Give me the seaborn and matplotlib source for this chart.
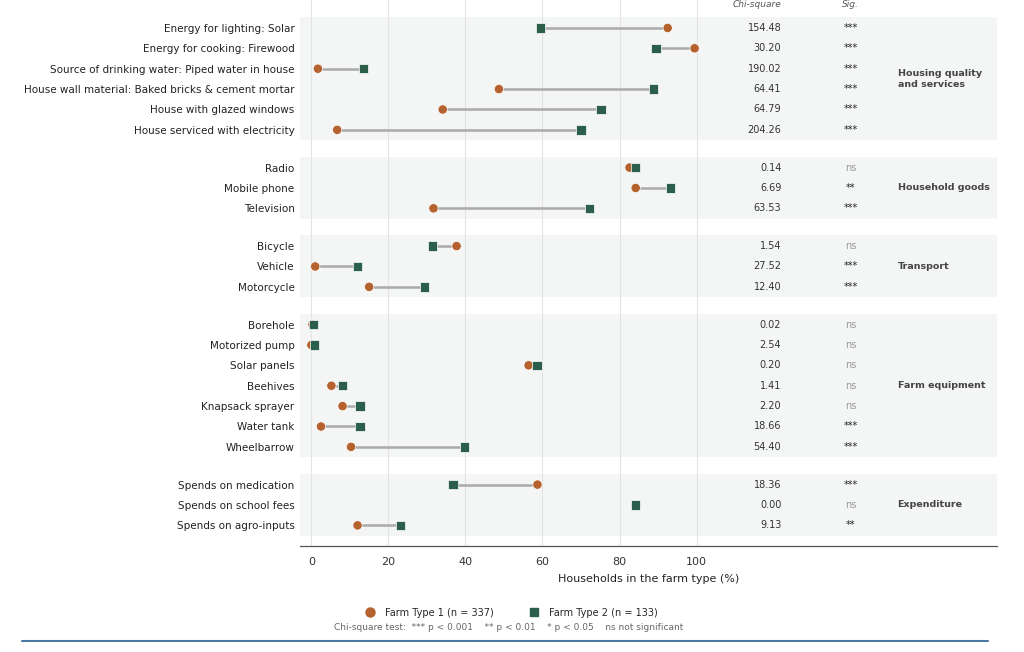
import matplotlib
matplotlib.use("Agg")
import matplotlib.pyplot as plt
from matplotlib.lines import Line2D
import seaborn as sns
import pandas as pd

# groups and items, top to bottom
groups = ["Housing quality\nand services", "Household goods", "Transport",
          "Farm equipment", "Expenditure"]
items = [
    ["Energy for lighting: Solar", "Energy for cooking: Firewood",
     "Source of drinking water: Piped water in house",
     "House wall material: Baked bricks & cement mortar",
     "House with glazed windows", "House serviced with electricity"],
    ["Radio", "Mobile phone", "Television"],
    ["Bicycle", "Vehicle", "Motorcycle"],
    ["Borehole", "Motorized pump", "Solar panels", "Beehives",
     "Knapsack sprayer", "Water tank", "Wheelbarrow"],
    ["Spends on medication", "Spends on school fees", "Spends on agro-inputs"],
]
type1 = [92.5, 99.5, 1.7, 48.7, 34.1, 6.7,
         82.6, 84.2, 31.7,
         37.7, 1.0, 15.0,
         0.3, 0.0, 56.4, 5.2, 8.1, 2.5, 10.3,
         58.7, 84.2, 12.0]
type2 = [59.5, 89.5, 13.5, 88.8, 75.2, 70.0,
         84.2, 93.2, 72.2,
         31.5, 11.9, 29.3,
         0.6, 0.8, 58.6, 8.1, 12.6, 12.6, 39.8,
         36.8, 84.2, 23.2]
chi2 = [154.48, 30.20, 190.02, 64.41, 64.79, 204.26,
        0.14, 6.69, 63.53,
        1.54, 27.52, 12.40,
        0.02, 2.54, 0.20, 1.41, 2.20, 18.66, 54.40,
        18.36, 0.00, 9.13]
sig = ["***", "***", "***", "***", "***", "***",
       "ns", "**", "***",
       "ns", "***", "***",
       "ns", "ns", "ns", "ns", "ns", "***", "***",
       "***", "ns", "**"]

c1 = "#b5622e"
c2 = "#2c5f4b"
GAP = 0.85

# y positions with a gap between groups
ypos, labels, spans = [], [], []
y = 0.0
for g, its in zip(groups, items):
    start = y
    for it in its:
        ypos.append(y)
        labels.append(it)
        y += 1
    spans.append((start, y - 1))
    y += GAP

df = pd.DataFrame({"item": labels, "y": ypos, "t1": type1, "t2": type2,
                   "chi2": chi2, "sig": sig})
long = pd.concat([
    pd.DataFrame({"y": df.y, "value": df.t1, "farm": "Farm Type 1 (n = 337)"}),
    pd.DataFrame({"y": df.y, "value": df.t2, "farm": "Farm Type 2 (n = 133)"}),
])

sns.set_style("white")
plt.rcParams["font.family"] = ["DejaVu Sans"]

fig = plt.figure(figsize=(10.24, 6.52), dpi=100)
ax = fig.add_axes([0.293, 0.162, 0.681, 0.838])

for s, e in spans:
    ax.axhspan(s - 0.52, e + 0.52, color="#f4f6f5", zorder=0, lw=0)
for gx in range(0, 101, 20):
    ax.axvline(gx, color="#e3e3e3", lw=0.8, zorder=0.5)

ax.hlines(df.y, df[["t1", "t2"]].min(axis=1), df[["t1", "t2"]].max(axis=1),
          color="#aaaaaa", lw=1.8, zorder=1)
sns.scatterplot(data=long, x="value", y="y", hue="farm", style="farm",
                palette=[c1, c2], markers=["o", "s"], s=45,
                edgecolor="white", linewidth=0.5, zorder=3, ax=ax,
                legend=False)

ax.set_xlim(-2.94, 178.1)
ax.set_ylim(ypos[-1] + 1.03, -1.37)
ax.set_xticks(range(0, 101, 20))
ax.set_yticks(df.y)
ax.set_yticklabels(df.item, fontsize=7.5, color="#222222")
ax.tick_params(axis="y", length=0, pad=4)
ax.tick_params(axis="x", length=4, width=0.8, colors="#333333",
               labelsize=8, direction="out")
ax.set_xlabel("Households in the farm type (%)", fontsize=8, color="#222222",
              labelpad=5)
ax.set_ylabel("")
for sp in ["left", "top", "right"]:
    ax.spines[sp].set_visible(False)
ax.spines["bottom"].set_color("#555555")
ax.spines["bottom"].set_linewidth(0.9)

# stats columns
ax.text(122, -1.13, "Chi-square", ha="right", va="center", fontsize=6.5,
        style="italic", color="#555555")
ax.text(140, -1.13, "Sig.", ha="center", va="center", fontsize=6.5,
        style="italic", color="#555555")
for yy, c, sg in zip(df.y, df.chi2, df.sig):
    ax.text(122, yy, f"{c:.2f}", ha="right", va="center", fontsize=7,
            color="#333333")
    ax.text(140, yy, sg, ha="center", va="center", fontsize=7,
            color="#999999" if sg == "ns" else "#222222")
for g, (s, e) in zip(groups, spans):
    ax.text(152.2, (s + e) / 2, g, ha="left", va="center", fontsize=6.8,
            fontweight="bold", color="#444444", linespacing=1.2)

handles = [Line2D([], [], marker="o", ls="", color=c1, markersize=6.5),
           Line2D([], [], marker="s", ls="", color=c2, markersize=6)]
fig.legend(handles, ["Farm Type 1 (n = 337)", "Farm Type 2 (n = 133)"],
           loc="center", bbox_to_anchor=(0.497, 0.06), ncol=2, frameon=False,
           fontsize=7, handletextpad=0.5, columnspacing=3.2)
fig.text(0.497, 0.037, "Chi-square test:  *** p < 0.001    ** p < 0.01    "
         "* p < 0.05    ns not significant", ha="center", va="center",
         fontsize=6.5, color="#666666")
fig.add_artist(Line2D([0.021, 0.965], [0.017, 0.017], color="#4d77a3",
                      lw=1.5, transform=fig.transFigure))

fig.savefig("out.png", dpi=100)
